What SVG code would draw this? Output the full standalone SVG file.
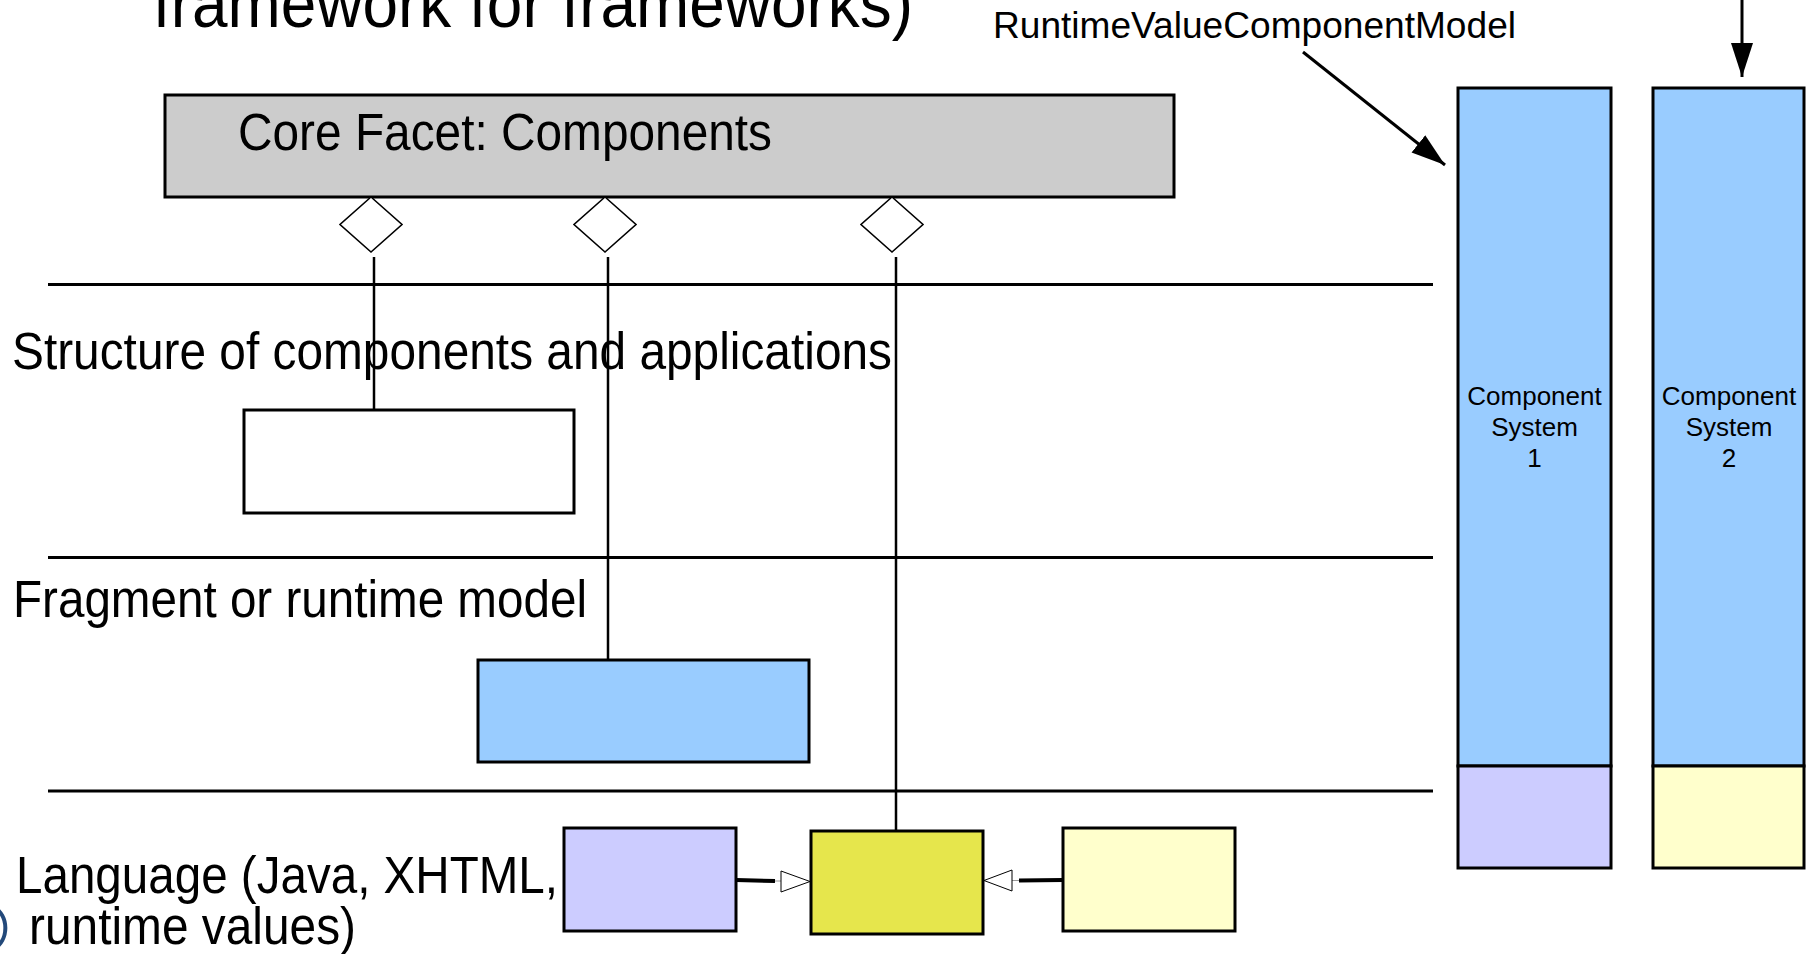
<svg xmlns="http://www.w3.org/2000/svg" width="1806" height="954" viewBox="0 0 1806 954">
<style>
.lbl{font-family:"Liberation Sans",Arial,sans-serif;fill:#000}
.box{stroke:#000;stroke-width:3}
.lane{stroke:#000;stroke-width:3}
.stem{stroke:#000;stroke-width:2.5;fill:none}
.dia{fill:#fff;stroke:#000;stroke-width:1.6}
.cs{font-family:"Liberation Sans",Arial,sans-serif;font-size:26px;text-anchor:middle;fill:#000}
</style>
<defs>
<marker id="arrowFill" markerUnits="userSpaceOnUse" markerWidth="36" markerHeight="24" refX="34" refY="11" orient="auto">
<path d="M0,0 L34,11 L0,22 z" fill="#000"/>
</marker>
</defs>
<rect width="1806" height="954" fill="#fff"/>

<text class="lbl" x="153" y="27" font-size="68" textLength="760" lengthAdjust="spacingAndGlyphs">framework for frameworks)</text>
<text class="lbl" x="993" y="38" font-size="36" textLength="523" lengthAdjust="spacingAndGlyphs">RuntimeValueComponentModel</text>

<g id="lanes">
<line class="lane" x1="48" y1="284.5" x2="1433" y2="284.5"/>
<line class="lane" x1="48" y1="557.5" x2="1433" y2="557.5"/>
<line class="lane" x1="48" y1="791" x2="1433" y2="791"/>
<text class="lbl" x="12" y="369" font-size="51" textLength="880" lengthAdjust="spacingAndGlyphs">Structure of components and applications</text>
<text class="lbl" x="13" y="617" font-size="51" textLength="574" lengthAdjust="spacingAndGlyphs">Fragment or runtime model</text>
<text class="lbl" x="16" y="893" font-size="51" textLength="542" lengthAdjust="spacingAndGlyphs">Language (Java, XHTML,</text>
<text class="lbl" x="29" y="944" font-size="51" textLength="327" lengthAdjust="spacingAndGlyphs">runtime values)</text>
<path d="M -6 907 A 22 24 0 0 1 -6 949" fill="none" stroke="#23497a" stroke-width="4"/>
</g>

<g id="core-facet">
<rect class="box" x="165" y="95" width="1009" height="102" fill="#cccccc"/>
<text class="lbl" x="238" y="150" font-size="51" textLength="534" lengthAdjust="spacingAndGlyphs">Core Facet: Components</text>
</g>

<g id="structure-box">
<rect class="box" x="244" y="410" width="330" height="103" fill="#ffffff"/>
</g>

<g id="fragment-box">
<rect class="box" x="478" y="660" width="331" height="102" fill="#99ccff"/>
</g>

<g id="lang-purple">
<rect class="box" x="564" y="828" width="172" height="103" fill="#ccccff"/>
</g>
<g id="lang-yellow">
<rect class="box" x="811" y="831" width="172" height="103" fill="#e6e64c"/>
</g>
<g id="lang-lightyellow">
<rect class="box" x="1063" y="828" width="172" height="103" fill="#ffffcc"/>
</g>

<g id="component-system-1">
<rect class="box" x="1458" y="88" width="153" height="678" fill="#99ccff"/>
<rect class="box" x="1458" y="766" width="153" height="102" fill="#ccccff"/>
<text class="cs" x="1534.5" y="405">Component</text>
<text class="cs" x="1534.5" y="436">System</text>
<text class="cs" x="1534.5" y="467">1</text>
</g>

<g id="component-system-2">
<rect class="box" x="1653" y="88" width="151" height="678" fill="#99ccff"/>
<rect class="box" x="1653" y="766" width="151" height="102" fill="#ffffcc"/>
<text class="cs" x="1729" y="405">Component</text>
<text class="cs" x="1729" y="436">System</text>
<text class="cs" x="1729" y="467">2</text>
</g>

<g id="connectors">
<polygon class="dia" points="371,197 402,224.5 371,252 340,224.5"/>
<polygon class="dia" points="605,197 636,224.5 605,252 574,224.5"/>
<polygon class="dia" points="892,197 923,224.5 892,252 861,224.5"/>
<line class="stem" x1="374" y1="257" x2="374" y2="410"/>
<line class="stem" x1="608" y1="257" x2="608" y2="660"/>
<line class="stem" x1="896" y1="257" x2="896" y2="831"/>

<line x1="736" y1="880" x2="775" y2="881" stroke="#000" stroke-width="4"/>
<line x1="775" y1="881" x2="781" y2="881" stroke="#999" stroke-width="1"/>
<polygon points="781,871 810,881.5 781,892" fill="#fff" stroke="#000" stroke-width="1"/>

<line x1="1063" y1="880" x2="1019" y2="880.5" stroke="#000" stroke-width="4"/>
<line x1="1019" y1="880.5" x2="1012" y2="880.5" stroke="#999" stroke-width="1"/>
<polygon points="1012,870 984,880.5 1012,891" fill="#fff" stroke="#000" stroke-width="1"/>

<line x1="1303" y1="52" x2="1445" y2="165" stroke="#000" stroke-width="3" marker-end="url(#arrowFill)"/>
<line x1="1742" y1="0" x2="1742" y2="77" stroke="#000" stroke-width="3" marker-end="url(#arrowFill)"/>
</g>
</svg>
